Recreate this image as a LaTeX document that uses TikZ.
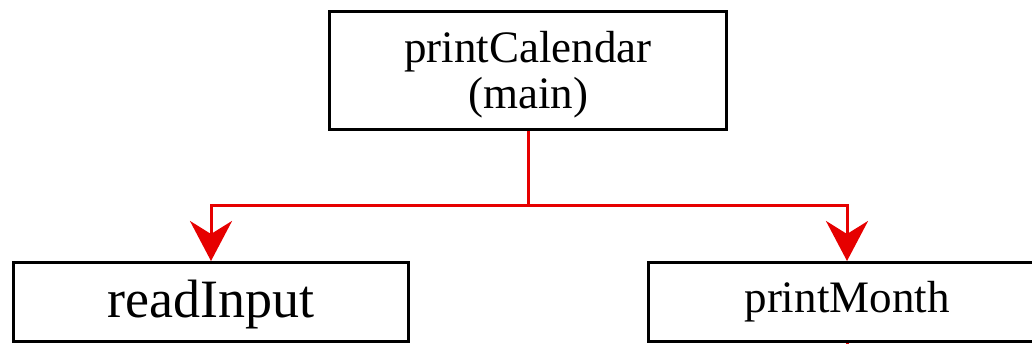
\documentclass[tikz,border=0pt]{standalone}
\usepackage{fontspec}
\setmainfont{Liberation Serif}
\usetikzlibrary{arrows.meta}
\definecolor{linkred}{RGB}{230,0,0}
\begin{document}
\begin{tikzpicture}[x=1pt,y=-1pt,
  box/.style={draw=black, line width=3pt, inner sep=0pt, anchor=center},
  link/.style={draw=linkred, line width=3pt},
  tip/.style={-{Stealth[length=40pt,width=42pt,inset=13pt]}}]
\useasboundingbox (0,0) rectangle (1032,344);
\node[box, minimum width=397pt, minimum height=118pt, align=center,
      font=\fontsize{45}{46}\selectfont] (main) at (528,70.5) {\rule{0pt}{40pt}printCalendar\\(main)};
\node[box, minimum width=395pt, minimum height=79pt, text height=40pt, text depth=9pt,
      font=\fontsize{54}{60}\selectfont] (read) at (211,302) {readInput};
\node[box, minimum width=397pt, minimum height=79pt, text height=35pt, text depth=14pt,
      font=\fontsize{45}{50}\selectfont] (month) at (847,302) {printMonth};
\coordinate (split) at (528,206);
\coordinate (below) at (847,370);
\draw[link] (main.south) -- (split);
\draw[link,tip] (split) -| (read.north);
\draw[link,tip] (split) -| (month.north);
\draw[link] (month.south) -- (below);
\end{tikzpicture}
\end{document}
